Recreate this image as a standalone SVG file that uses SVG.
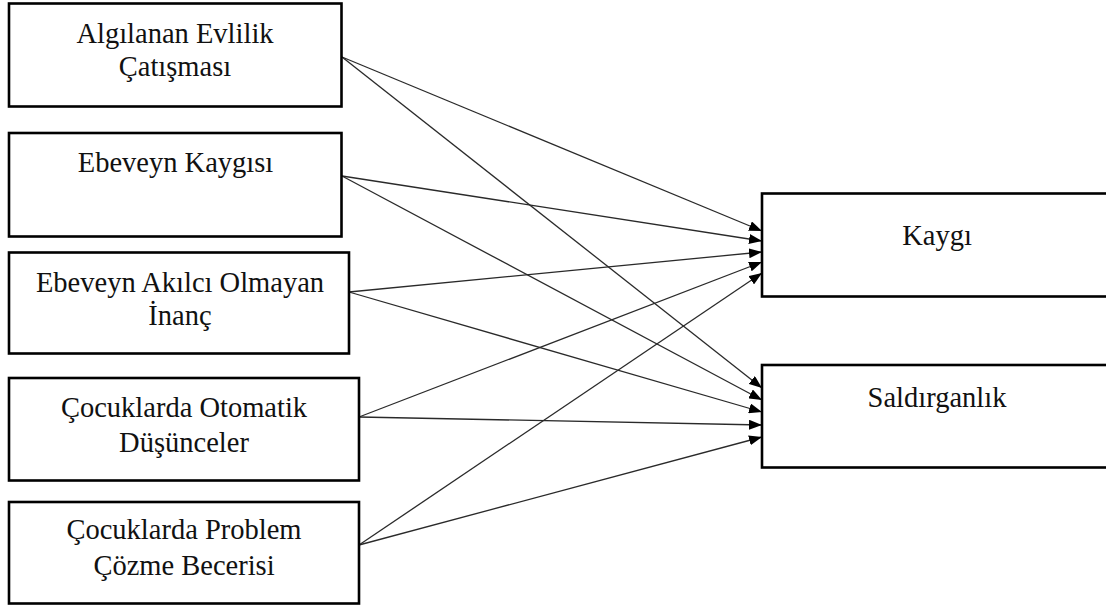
<svg xmlns="http://www.w3.org/2000/svg" width="1106" height="608" viewBox="0 0 1106 608">
<defs>
<style>
.box{fill:#fff;stroke:#000;stroke-width:2.6}
.lbl{font-family:"Liberation Serif","Times New Roman",serif;font-size:28.5px;fill:#111;text-anchor:middle}
.con{stroke:#2a2a2a;stroke-width:1.3;fill:none;marker-end:url(#ah)}
</style>
<marker id="ah" viewBox="0 0 13 10" markerWidth="13" markerHeight="10" refX="13" refY="5" orient="auto" markerUnits="userSpaceOnUse">
<path d="M0,0 L13,5 L0,10 z" fill="#000"/>
</marker>
</defs>
<rect width="1106" height="608" fill="#fff"/>
<g id="connectors">
<line class="con" x1="342" y1="57" x2="762" y2="231"/>
<line class="con" x1="342" y1="57" x2="762" y2="388"/>
<line class="con" x1="342" y1="176" x2="762" y2="241"/>
<line class="con" x1="342" y1="176" x2="762" y2="400"/>
<line class="con" x1="349" y1="292" x2="762" y2="252"/>
<line class="con" x1="349" y1="292" x2="762" y2="412"/>
<line class="con" x1="359" y1="417" x2="762" y2="262"/>
<line class="con" x1="359" y1="417" x2="762" y2="425"/>
<line class="con" x1="359" y1="545" x2="762" y2="273"/>
<line class="con" x1="359" y1="545" x2="762" y2="437"/>
</g>
<g id="n1">
<rect class="box" x="9" y="3.5" width="332.5" height="103"/>
<text class="lbl" x="175" y="43">Algılanan Evlilik</text>
<text class="lbl" x="175" y="76">Çatışması</text>
</g>
<g id="n2">
<rect class="box" x="9" y="133" width="332.5" height="103.5"/>
<text class="lbl" x="175.5" y="172">Ebeveyn Kaygısı</text>
</g>
<g id="n3">
<rect class="box" x="9" y="252.5" width="340" height="101"/>
<text class="lbl" x="180" y="292">Ebeveyn Akılcı Olmayan</text>
<text class="lbl" x="180" y="325">İnanç</text>
</g>
<g id="n4">
<rect class="box" x="9" y="378" width="350" height="102.5"/>
<text class="lbl" x="184" y="417">Çocuklarda Otomatik</text>
<text class="lbl" x="184" y="452">Düşünceler</text>
</g>
<g id="n5">
<rect class="box" x="9" y="502" width="350" height="101.5"/>
<text class="lbl" x="184" y="539">Çocuklarda Problem</text>
<text class="lbl" x="184" y="575">Çözme Becerisi</text>
</g>
<g id="n6">
<rect class="box" x="762" y="193.5" width="360" height="103"/>
<text class="lbl" x="937" y="245">Kaygı</text>
</g>
<g id="n7">
<rect class="box" x="762" y="365" width="360" height="102.5"/>
<text class="lbl" x="937" y="407">Saldırganlık</text>
</g>
</svg>
